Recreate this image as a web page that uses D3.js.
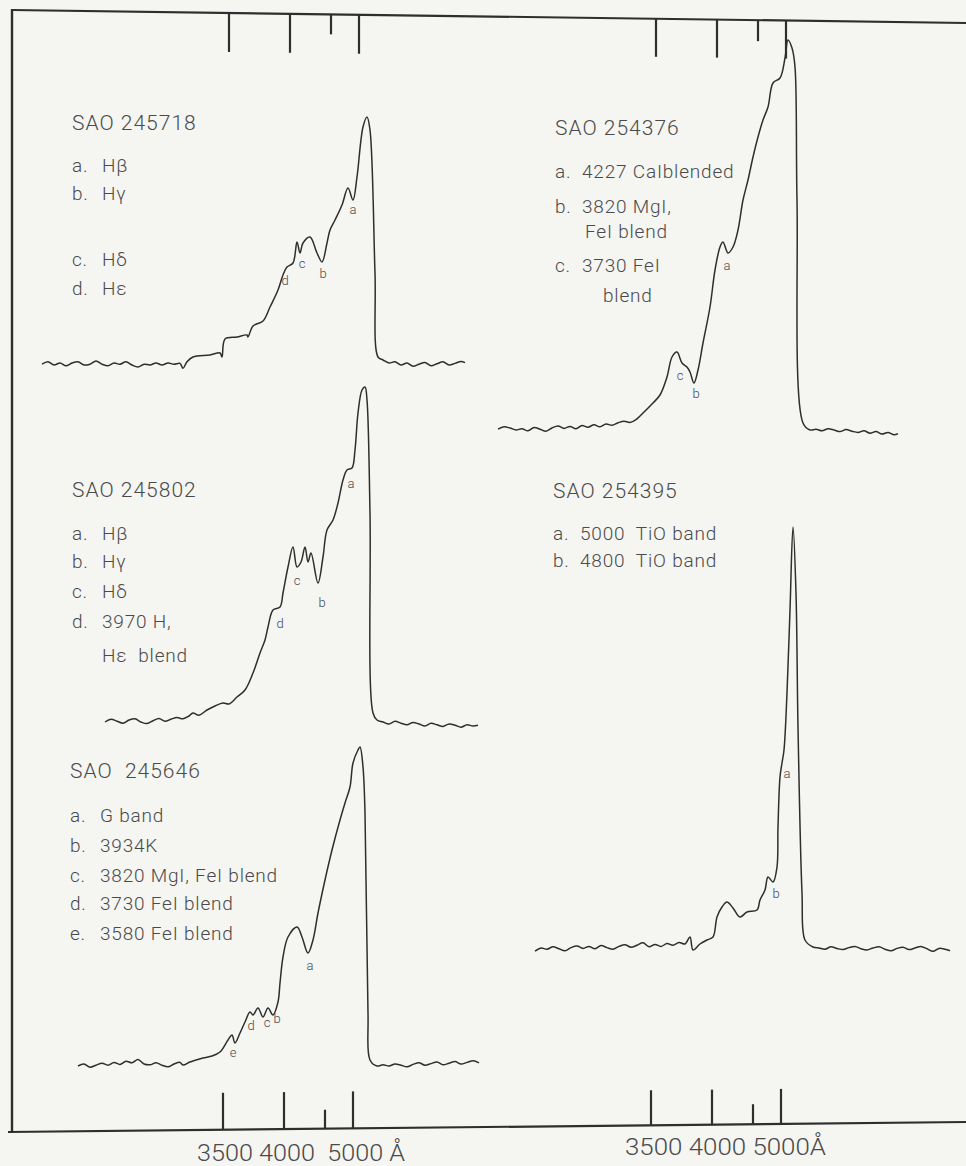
<!DOCTYPE html>
<html>
<head>
<meta charset="utf-8">
<script src="https://cdnjs.cloudflare.com/ajax/libs/d3/7.8.5/d3.min.js"></script>
<style>
body{margin:0;background:#f5f5f2;}
svg{display:block;}
text{font-family:Roboto,"DejaVu Sans",sans-serif;font-weight:300;fill:#4a4a4a;white-space:pre;}
</style>
</head>
<body>
<script>
// densitometer tracings: [position along plate (mm), deflection (mm)]
var spec245718 = [[0,0.2],[1.5,0.8],[3,0],[4.5,0.5],[6,-0.2],[7.5,0.5],[9,0.8],[10.5,0],[12,0.2],[13.5,1],[15,0.2],[16.5,-0.2],[18,0.5],[19.5,0.2],[21,0.8],[22.5,0],[24,-0.5],[25.5,0.2],[27,0],[28.5,0.5],[30,0],[31.5,0.5],[33,0.2],[34.5,0.4],[35.25,-0.8],[36.25,0.8],[37.75,2],[42,2.5],[44.5,3],[45,2],[45.75,6.5],[48.75,7],[51.25,7.5],[51.5,7],[52.75,9.75],[55.25,11],[57,14.5],[59,18.75],[60.25,22.5],[61.25,24.5],[62.75,25.5],[63.75,30.75],[64.5,28],[65.25,30.5],[67,32],[68.75,28],[70,25.75],[71.25,30.5],[72,33.75],[73.25,36.25],[75,40],[76.5,44.25],[77.75,41.25],[78.75,47],[80.25,59.5],[81.25,62],[82,58.75],[83.25,23],[84,2],[85.25,1.25],[86.75,0.5],[88.25,0.8],[89.75,0],[91.25,0.5],[92.75,-0.3],[94.25,0.2],[95.75,0.6],[97.25,-0.2],[98.75,0.3],[100.25,0.8],[101.75,0],[103.25,0.4],[104.75,0.9],[105.75,0.6]]
var spec245802 = [[0,-0.5],[1.5,0.2],[3,-0.3],[4.5,-0.8],[6,0],[7.5,0.3],[9,-0.5],[10.5,-0.9],[12,-0.2],[13.5,0.4],[15,-0.3],[16.5,0.2],[18,0.6],[19.5,0.3],[21,1],[22,1.75],[23.5,1.2],[25.5,2.5],[27.5,3.5],[29.5,4.25],[31,4],[33,5.75],[35,7.5],[37,11.75],[38.75,16.75],[40,20],[40.75,23.25],[42,27.5],[43.75,28.25],[44.5,31.75],[45.75,38.25],[47,43.25],[48,38.25],[49,39.5],[50,43.25],[50.75,39.5],[51.5,41.75],[53.25,34.25],[54.5,40.75],[55.5,47.5],[57,50],[58.25,54.25],[59.5,60],[60.5,62.5],[61.75,63],[62.5,67.5],[63.25,76.75],[64.25,82.5],[65,83.25],[65.5,80],[66.25,51.75],[67,1.75],[68,0],[69.5,-0.5],[71,-1],[72.5,-0.3],[74,-0.8],[75.5,-1.2],[77,-0.6],[78.5,-1],[80,-1.5],[81.5,-0.8],[83,-1.2],[84.5,-1.6],[86,-1],[87.5,-1.3],[89,-1.8],[90.5,-1.2],[92,-1.5],[93.25,-1.3]]
var spec245646 = [[0,0],[1.5,0.5],[3,-0.3],[4.5,0.2],[6,0.7],[7.5,0.2],[9,0.9],[10.5,0.4],[12,1.2],[13.5,0.8],[15,1.6],[16.5,0.5],[18,0.3],[19.5,0.8],[21,0.2],[22.5,-0.2],[24,0.5],[25.5,0.9],[26.25,0.25],[28,1],[31.25,2],[33.5,2.5],[35.5,3.5],[37.5,6.5],[38.5,7.75],[39.25,5.75],[40.5,8.25],[41.75,11],[43,13.5],[43.75,12.75],[45,14.5],[46.25,12.25],[47.5,14.5],[48.75,12.75],[50,16],[50.5,20.75],[51.25,27.25],[52.5,32.25],[54.75,34.75],[56,32.25],[57.5,28.25],[58.75,31.5],[60,38.25],[61.75,46.5],[63.5,54],[65.5,61.5],[66.75,65.75],[68,69.75],[68.75,75.75],[70,79],[70.5,79.75],[71.25,74.75],[71.75,63.25],[72.5,13.25],[73,1.5],[74.75,0],[76.25,0.3],[77.75,0],[79.25,0.5],[80.75,0.2],[82.25,-0.2],[83.75,0.4],[85.25,0.8],[86.75,0.2],[88.25,0.6],[89.75,1],[91.25,0.3],[92.75,0.7],[94.25,1.1],[95.75,0.5],[97.25,0.9],[98.75,1.3],[100.25,0.8]]
var spec254376 = [[0,0.2],[1.5,0.8],[3,0.5],[4.5,0],[6,0.3],[7.5,-0.2],[9,0.6],[10.5,0.2],[12,-0.3],[13.5,0.5],[15,1],[16.5,0.4],[18,0.9],[19.5,0.3],[21,1.1],[22.5,0.7],[24,1.3],[25.5,0.8],[27,1.5],[28.5,1.2],[30,1.8],[31.5,2.2],[33,1.9],[34.5,2.6],[36.25,4.25],[38.75,6.75],[40.5,8.75],[42.25,13.25],[43.5,18.25],[44.75,19.5],[46,16.75],[47.25,15.75],[48,14.5],[49,11.75],[50,15],[51.25,21.75],[53,30.75],[54.25,40],[55.5,45.75],[56.25,47],[57.5,44.25],[58.75,45.75],[60,50],[61.25,57.5],[62.5,62.5],[63.75,68.25],[65,73.25],[66.25,77.5],[67.5,80.75],[68.75,86.75],[70.5,88],[71.75,93],[72.5,97.5],[73.5,95.5],[74.25,90.75],[74.75,57.5],[76.25,1.75],[78,0],[79.5,0.2],[81,-0.2],[82.5,0.3],[84,0],[85.5,-0.4],[87,0.1],[88.5,-0.3],[90,-0.6],[91.5,-0.2],[93,-0.8],[94.5,-0.4],[96,-1],[97.5,-0.6],[99,-1.2],[100,-0.9]]
var spec254395 = [[0,-0.3],[1.5,0.5],[3,0.2],[4.5,0.8],[6,0.3],[7.5,-0.2],[9,0.6],[10.5,1],[12,0.4],[13.5,0.9],[15,0.3],[16.5,1.1],[18,0.6],[19.5,0.2],[21,0.9],[22.5,1.3],[24,0.7],[25.5,1.2],[27,1.8],[28.5,0.8],[30,1.4],[31.5,0.9],[33,1.6],[34.5,1.2],[36,1.9],[37.5,1.5],[38.75,3.25],[39.5,0],[41.25,1.5],[43,2.5],[44.5,3.25],[45.5,8.25],[46.75,10.75],[48,12],[49.5,10.5],[51.25,8.25],[53,9.5],[55.5,10],[56.25,12.5],[57.5,15],[58.25,18.25],[59.5,17],[60.5,20.75],[60.75,30.75],[61.25,43.25],[61.75,46.75],[62.25,50],[63,64.25],[63.75,85],[64.5,105.75],[65.25,89.25],[65.75,55.75],[66.75,14.25],[67.5,2.5],[69.5,0.75],[71,0.5],[72.5,0.2],[74,0.8],[75.5,0.4],[77,0.1],[78.5,0.6],[80,0.9],[81.5,0.3],[83,0],[84.5,0.5],[86,0.8],[87.5,0.2],[89,-0.2],[90.5,0.4],[92,0.7],[93.5,0.1],[95,0.5],[96.5,0.9],[98,0.3],[99.5,-0.3],[101,0.4],[102.5,0.2],[103.75,-0.2]]

// identified features: [letter, position mm, deflection mm]
var marks245718 = [["a",77.75,39],["b",70.25,23],["c",65,25.5],["d",60.75,21.25]]
var marks245802 = [["a",61.5,59.25],["b",54.25,29.5],["c",48,35],["d",43.75,24.25]]
var marks245646 = [["a",58,25.25],["b",49.75,12],["c",47.25,11],["d",43.25,10.25],["e",38.75,3.5]]
var marks254376 = [["a",57.25,41.25],["b",49.5,9.25],["c",45.5,13.75]]
var marks254395 = [["a",63,44.25],["b",60.25,14.25]]

// legends: [letter, text, extra indent]
var legend245718 = [["a.","Hβ"],["b.","Hγ"],["c.","Hδ"],["d.","Hε"]]
var legend245802 = [["a.","Hβ"],["b.","Hγ"],["c.","Hδ"],["d.","3970 H,"],["","Hε  blend"]]
var legend245646 = [["a.","G band"],["b.","3934K"],["c.","3820 MgI, FeI blend"],["d.","3730 FeI blend"],["e.","3580 FeI blend"]]
var legend254376 = [["a.","4227 CaIblended"],["b.","3820 MgI,"],["","FeI blend",3],["c.","3730 FeI"],["","blend",21]]
var legend254395 = [["a.","5000  TiO band"],["b.","4800  TiO band"]]

// wavelength calibration marks
var tickWaves = [3500, 4000, 4500, 5000]
var tickMm = [-32.5, -17.25, -7, 0]
var labelLeft = "3500 4000  5000 Å"
var labelRight = "3500 4000 5000Å"

var W = 966, H = 1166, PX = 4; // 4 px per mm

var panels = [
	{title:"SAO 245718", trace:spec245718, marks:marks245718, legend:legend245718, x0:42, base:365, tx:72, ty:130, lx:102, ly:[172,200,266,295]},
	{title:"SAO 245802", trace:spec245802, marks:marks245802, legend:legend245802, x0:105, base:720, tx:72, ty:497, lx:102, ly:[540,568,598,628,662]},
	{title:"SAO  245646", trace:spec245646, marks:marks245646, legend:legend245646, x0:78, base:1066, tx:70, ty:778, lx:100, ly:[822,852,882,910,940]},
	{title:"SAO 254376", trace:spec254376, marks:marks254376, legend:legend254376, x0:498, base:430, tx:555, ty:135, lx:582, ly:[178,213,238,272,302]},
	{title:"SAO 254395", trace:spec254395, marks:marks254395, legend:legend254395, x0:535, base:950, tx:553, ty:498, lx:580, ly:[540,567]}
]

var svg = d3.select("body").append("svg")
	.attr("width", W)
	.attr("height", H);

// frame (slightly skewed as on the plate)
var topY = d3.scaleLinear().domain([12, 966]).range([10, 23]);
var botY = d3.scaleLinear().domain([8, 966]).range([1132, 1122]);
var ink = "#2e2e2e";

svg.append("line").attr("x1", 12).attr("y1", topY(12)).attr("x2", 966).attr("y2", topY(966))
	.attr("stroke", ink).attr("stroke-width", 2.2);
svg.append("line").attr("x1", 12).attr("y1", topY(12) - 1).attr("x2", 12).attr("y2", botY(12) + 1)
	.attr("stroke", ink).attr("stroke-width", 2.4);
svg.append("line").attr("x1", 8).attr("y1", botY(8)).attr("x2", 966).attr("y2", botY(966))
	.attr("stroke", ink).attr("stroke-width", 2.2);

var disp = d3.scaleLinear().domain(tickWaves).range(tickMm);

function drawTicks(anchor, side, longLen, shortLen){
	tickWaves.forEach(function(w, i){
		var x = anchor + disp(w) * PX;
		var len = (w == 4500) ? shortLen : longLen;
		var y0 = side == "top" ? topY(x) : botY(x);
		var y1 = side == "top" ? y0 + len : y0 - len;
		svg.append("line").attr("x1", x).attr("x2", x).attr("y1", y0).attr("y2", y1)
			.attr("stroke", ink).attr("stroke-width", 2.2);
	});
}
drawTicks(359, "top", 39, 20);
drawTicks(786, "top", 38, 21);
drawTicks(353, "bottom", 37, 19);
drawTicks(781, "bottom", 35, 20);

svg.append("text").attr("x", 353 - 39 * PX).attr("y", 1161)
	.attr("font-size", 23).attr("textLength", 208).attr("lengthAdjust", "spacingAndGlyphs")
	.text(labelLeft);
svg.append("text").attr("x", 781 - 39 * PX).attr("y", 1155)
	.attr("font-size", 23).attr("textLength", 201).attr("lengthAdjust", "spacingAndGlyphs")
	.text(labelRight);

// the tracings
panels.forEach(function(p){
	var x = d3.scaleLinear().domain([0, 100]).range([p.x0, p.x0 + 100 * PX]);
	var y = d3.scaleLinear().domain([0, 100]).range([p.base, p.base - 100 * PX]);
	var line = d3.line()
		.x(function(d){ return x(d[0]) })
		.y(function(d){ return y(d[1]) })
		.curve(d3.curveCatmullRom.alpha(0.5));
	svg.append("path").attr("d", line(p.trace))
		.attr("fill", "none").attr("stroke", ink).attr("stroke-width", 1.5)
		.attr("stroke-linejoin", "round");

	svg.selectAll(null).data(p.marks).enter().append("text")
		.attr("x", function(d){ return x(d[1]) })
		.attr("y", function(d){ return y(d[2]) })
		.attr("text-anchor", "middle").attr("dominant-baseline", "central")
		.attr("font-size", 13)
		.text(function(d){ return d[0] });

	svg.append("text").attr("x", p.tx).attr("y", p.ty)
		.attr("font-size", 21).attr("letter-spacing", 1)
		.text(p.title);

	p.legend.forEach(function(l, i){
		var t = svg.append("text").attr("y", p.ly[i]).attr("font-size", 19).attr("letter-spacing", 0.8);
		if (l[0] != "") t.append("tspan").attr("x", p.tx).text(l[0]);
		t.append("tspan").attr("x", p.lx + (l[2] || 0)).text(l[1]);
	});
});
</script>
</body>
</html>
